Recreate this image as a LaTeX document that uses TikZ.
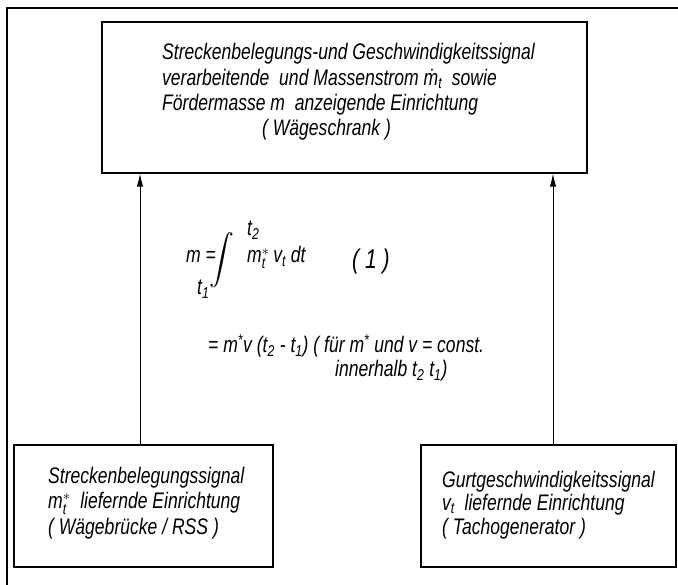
\documentclass[tikz,border=0pt]{standalone}
\usepackage{amsmath}
\usepackage{fontspec}
\setmainfont{Liberation Sans}[FakeStretch=0.78]
\usetikzlibrary{arrows.meta}
\begin{document}
\begin{tikzpicture}[x=1pt,y=-1pt,
  box/.style={draw,line width=1.4pt,inner sep=0pt},
  lbl/.style={inner sep=0pt,anchor=north west,align=left,font=\fontsize{22.5}{24}\selectfont\itshape},
  ftxt/.style={inner sep=0pt,anchor=base west,font=\fontsize{22.5}{24}\selectfont\itshape},
  arr/.style={line width=0.9pt,-{Latex[length=13pt,width=6.5pt]}},
  frame/.style={line width=1.3pt}]
\useasboundingbox (0,0) rectangle (678,585);
% outer frame (partial)
\coordinate (fr1) at (678,8);
\coordinate (fr2) at (7,8);
\coordinate (fr3) at (7,585);
\draw[frame] (fr1) -- (fr2) -- (fr3);
% boxes
\node[box,minimum width=485pt,minimum height=151pt] (top) at (344.5,97.5) {};
\node[box,minimum width=259pt,minimum height=122pt] (bl) at (143.5,506) {};
\node[box,minimum width=255pt,minimum height=122pt] (br) at (548.5,506) {};
% texts
\node[lbl,font=\fontsize{22.5}{25}\selectfont\itshape] (toptext) at (162,43) {Streckenbelegungs-und Geschwindigkeitssignal\\[1pt]
verarbeitende\ \ und Massenstrom \.{m}\textsubscript{t}\ \ sowie\\
Fördermasse m\ \ anzeigende Einrichtung\\
\hspace*{100pt}( Wägeschrank )};
\node[lbl,font=\fontsize{22.5}{25.5}\selectfont\itshape] (bltext) at (48,466.5) {Streckenbelegungssignal\\
$\text{m}^{*}_{\text{t}}$\ \ liefernde Einrichtung\\
( Wägebrücke / RSS )};
\node[lbl,font=\fontsize{22.5}{23.5}\selectfont\itshape] (brtext) at (442,470.5) {Gurtgeschwindigkeitssignal\\
$\text{v}_{\text{t}}$\ \ liefernde Einrichtung\\
( Tachogenerator )};
% formula
\node[ftxt] (fm) at (186,263) {m =};
\node[inner sep=0pt,font=\fontsize{25}{25}\selectfont] (fint) at (222,260) {$\displaystyle\int$};
\node[ftxt] (ft2) at (247,236) {t\textsubscript{2}};
\node[ftxt] (ft1) at (197,295) {t\textsubscript{1}};
\node[ftxt] (fbody) at (247,263) {$\text{m}^{*}_{\text{t}}$\,v\textsubscript{t}\ dt};
\node[ftxt,font=\fontsize{27}{27}\selectfont\itshape] (fnum) at (352,269) {( 1 )};
\node[ftxt] (fline2) at (208,353) {= m\textsuperscript{*}v (t\textsubscript{2} - t\textsubscript{1}) ( für m\textsuperscript{*} und v = const.};
\node[ftxt] (fline3) at (335,377) {innerhalb t\textsubscript{2} t\textsubscript{1})};
% arrows
\draw[arr] ([xshift=-3.5pt]bl.north) -- ([xshift=-3.5pt]bl.north |- top.south);
\draw[arr] ([xshift=4.5pt]br.north) -- ([xshift=4.5pt]br.north |- top.south);
\end{tikzpicture}
\end{document}
